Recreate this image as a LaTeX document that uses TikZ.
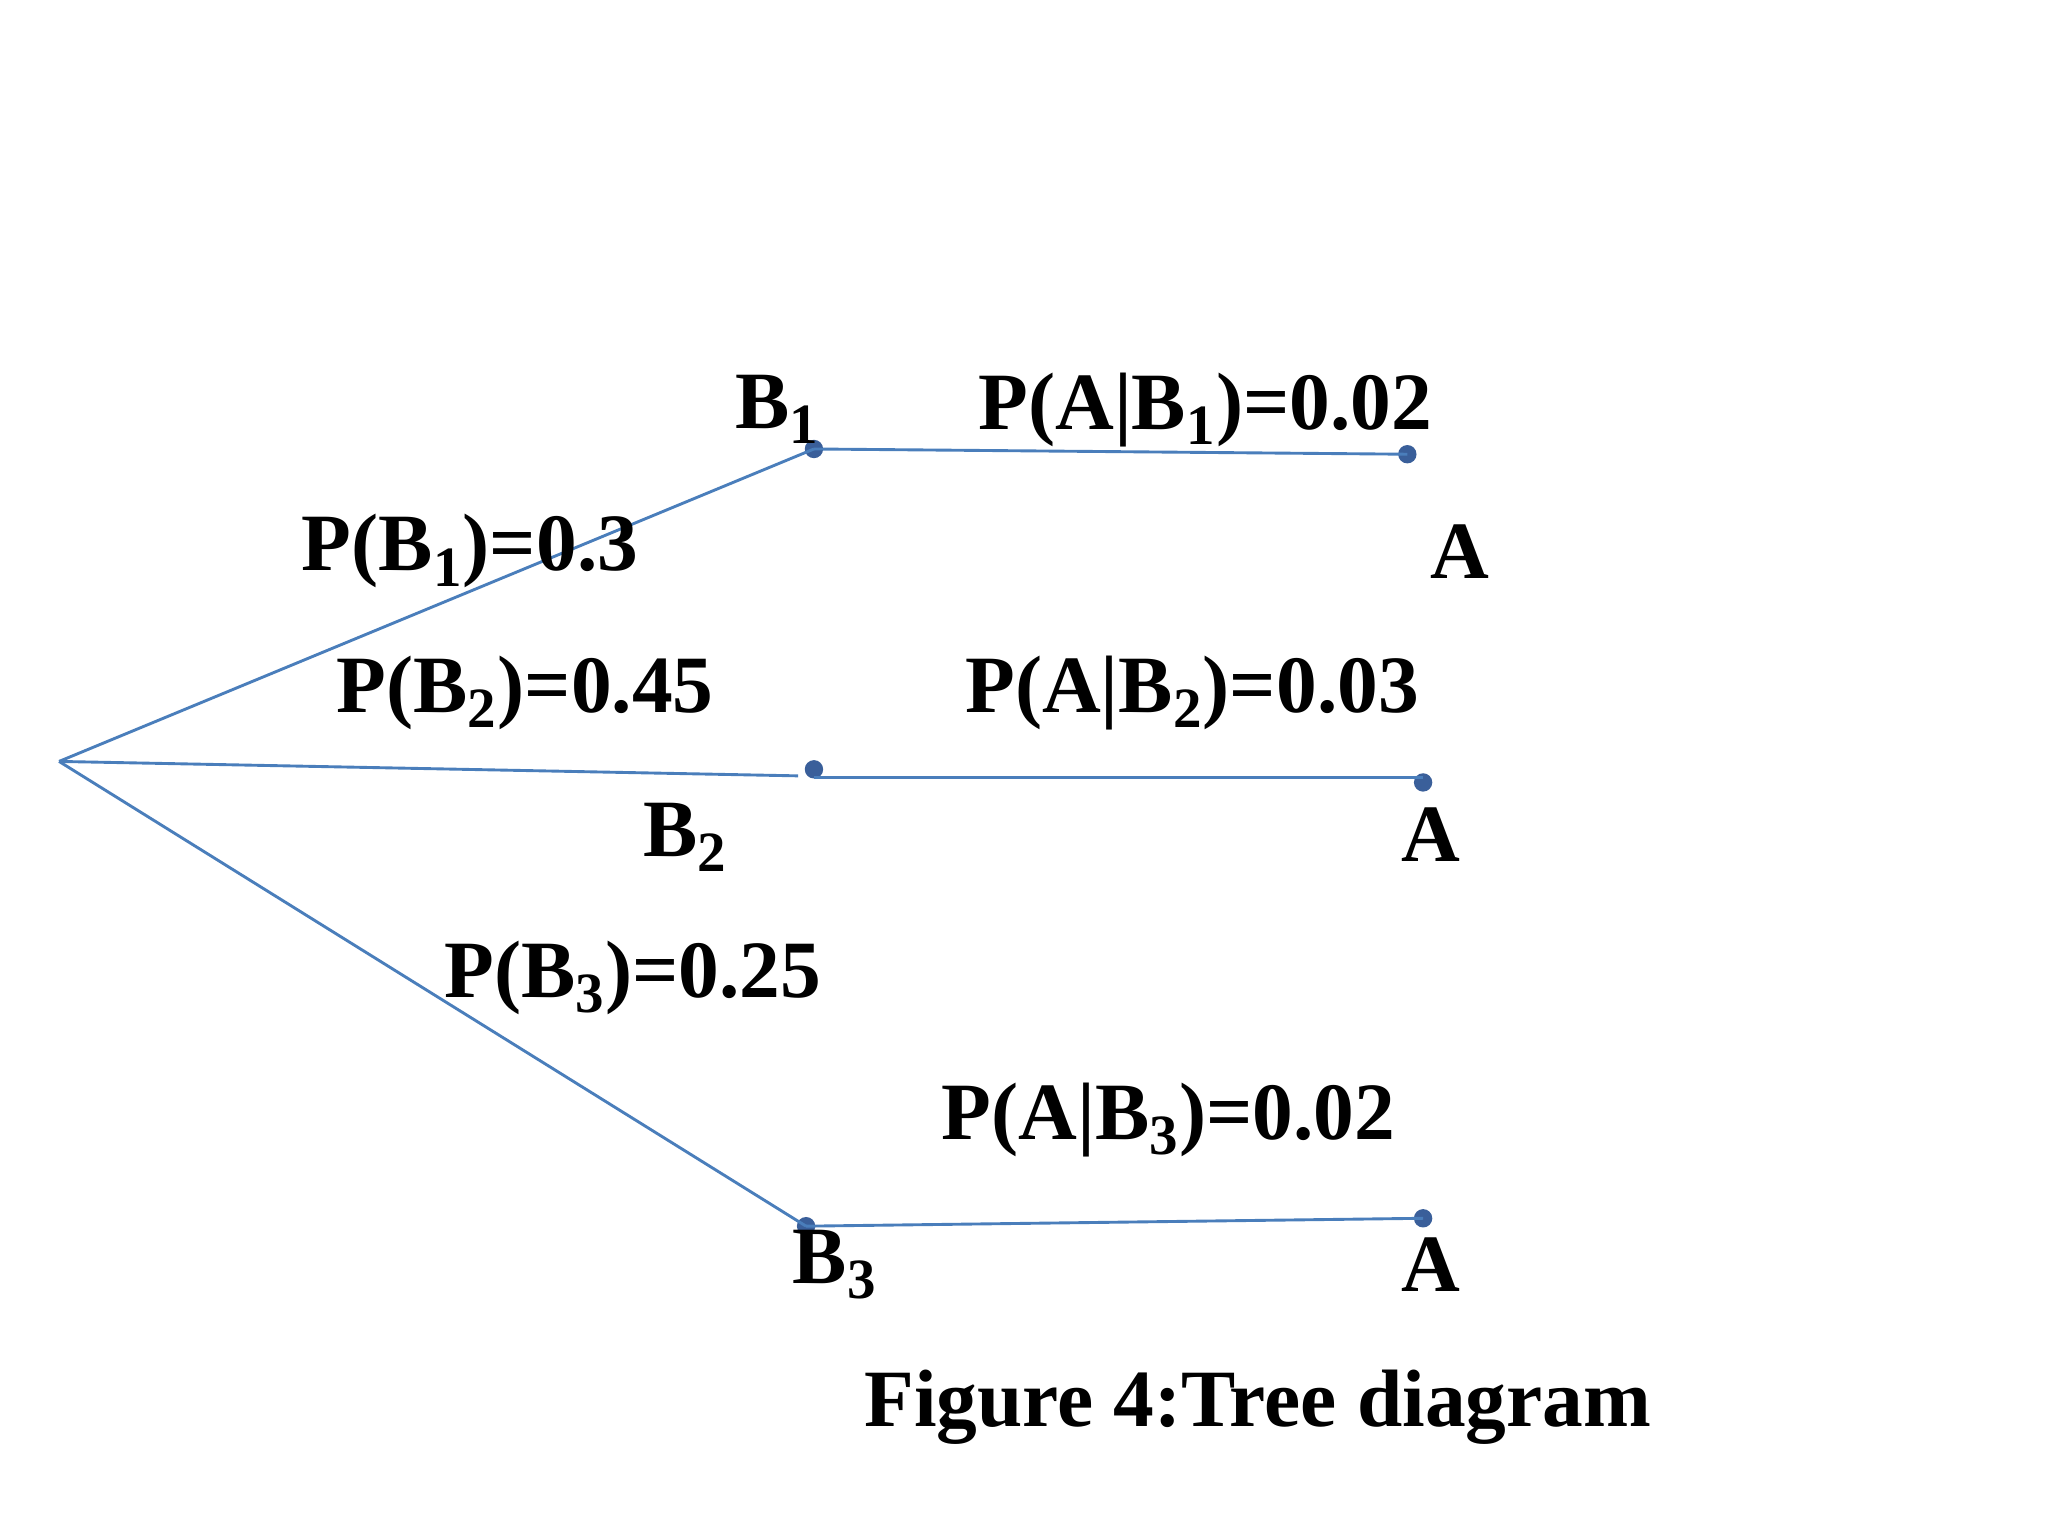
\documentclass[tikz,border=0pt]{standalone}
\usepackage{fontspec}
\setmainfont{Liberation Serif}
\begin{document}
\begin{tikzpicture}[x=0.5pt,y=-0.5pt,
  ln/.style={draw=lineblue,line width=1.1pt},
  dot/.style={circle,fill=dotblue,inner sep=0pt,minimum size=7pt},
  lab/.style={font=\fontsize{31}{36}\selectfont\bfseries,inner sep=0pt}]
\definecolor{lineblue}{HTML}{4A7EBB}
\definecolor{dotblue}{HTML}{3A5F9A}
\useasboundingbox (0,0) rectangle (1560,1170);
\coordinate (r) at (45,580);
\coordinate (b2e) at (608,591);
\coordinate (b2s) at (620,592);
\coordinate (a2s) at (1084,592);
\node[dot] (b1) at (620,342) {};
\node[dot] (a1) at (1072,346) {};
\node[dot] (b2) at (620,586) {};
\node[dot] (a2) at (1084,596) {};
\node[dot] (b3) at (614,934) {};
\node[dot] (a3) at (1084,928) {};
\draw[ln] (r) -- (b1.center);
\draw[ln] (b1.center) -- (1072,346);
\draw[ln] (r) -- (b2e);
\draw[ln] (b2s) -- (a2s);
\draw[ln] (r) -- (b3.center);
\draw[ln] (b3.center) -- (a3.center);
\node[lab] (tb1) at (592,312) {B\textsubscript{1}};
\node[lab] (tp1) at (918,312) {P(A|B\textsubscript{1})=0.02};
\node[lab] (tpb1) at (358,420) {P(B\textsubscript{1})=0.3};
\node[lab] (ta1) at (1112,420) {A};
\node[lab] (tpb2) at (400,528) {P(B\textsubscript{2})=0.45};
\node[lab] (tp2) at (908,528) {P(A|B\textsubscript{2})=0.03};
\node[lab] (tb2) at (522,638) {B\textsubscript{2}};
\node[lab] (ta2) at (1090,636) {A};
\node[lab] (tpb3) at (482,745) {P(B\textsubscript{3})=0.25};
\node[lab] (tp3) at (890,853) {P(A|B\textsubscript{3})=0.02};
\node[lab] (tb3) at (636,963) {B\textsubscript{3}};
\node[lab] (ta3) at (1090,963) {A};
\node[lab] (cap) at (958,1072) {Figure 4:Tree diagram};
\end{tikzpicture}
\end{document}
